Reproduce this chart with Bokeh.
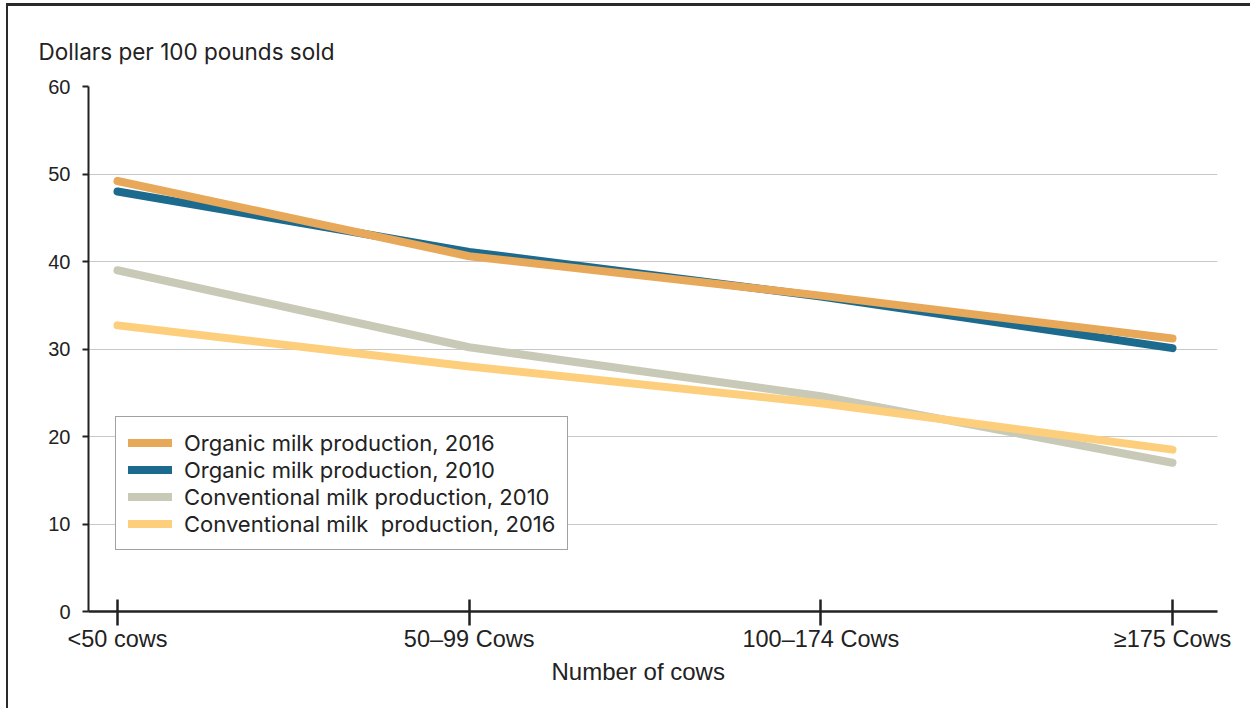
from bokeh.plotting import figure
from bokeh.models import Range1d, FixedTicker, Legend, LegendItem, Title
from bokeh.embed import file_html
from bokeh.resources import INLINE

categories = ["<50 cows", "50\u201399 Cows", "100\u2013174 Cows", "\u2265175 Cows"]
organic_2016 = [49.2, 40.6, 36.1, 31.2]
organic_2010 = [48.0, 41.1, 36.0, 30.1]
conventional_2010 = [39.0, 30.2, 24.6, 17.0]
conventional_2016 = [32.7, 28.0, 23.8, 18.5]
y_ticks = [0, 10, 20, 30, 40, 50, 60]

xs = list(range(len(categories)))

p = figure(width=1244, height=705, output_backend="svg", toolbar_location=None,
           x_range=Range1d(-0.0825, 3.128), y_range=Range1d(0, 60),
           min_border_left=80, min_border_right=35, min_border_top=80, min_border_bottom=100,
           styles={"margin-left": "6px", "margin-top": "3px",
                   "border-top": "3px solid #2a2a2a", "border-left": "2px solid #2a2a2a"})
p.outline_line_color = None
p.background_fill_color = "white"
p.border_fill_color = "white"

t = Title(text="Dollars per 100 pounds sold", align="left", offset=-50, standoff=43,
          text_font="Inter", text_font_size="22.5px", text_font_style="normal",
          text_color="#222222")
p.add_layout(t, "above")

xt = Title(text="Number of cows", align="left", offset=463, standoff=2,
           text_font="Liberation Sans", text_font_size="24px", text_font_style="normal",
           text_color="#222222")
p.add_layout(xt, "below")

# grid
p.xgrid.grid_line_color = None
p.ygrid.grid_line_color = "#c8c8c8"
p.ygrid.grid_line_width = 1.2

# y axis
p.yaxis.ticker = FixedTicker(ticks=y_ticks)
p.yaxis.axis_line_color = "#222222"
p.yaxis.axis_line_width = 2
p.yaxis.major_tick_line_color = "#222222"
p.yaxis.major_tick_line_width = 2
p.yaxis.major_tick_out = 6
p.yaxis.major_tick_in = 0
p.yaxis.minor_tick_line_color = None
p.yaxis.major_label_standoff = 12
p.yaxis.major_label_text_font = "Liberation Sans"
p.yaxis.major_label_text_font_size = "20px"
p.yaxis.major_label_text_color = "#222222"

# x axis
p.xaxis.ticker = FixedTicker(ticks=xs)
p.xaxis.major_label_overrides = {i: c for i, c in enumerate(categories)}
p.xaxis.axis_line_color = "#222222"
p.xaxis.axis_line_width = 2.5
p.xaxis.major_tick_line_color = "#222222"
p.xaxis.major_tick_line_width = 2.5
p.xaxis.major_tick_out = 14
p.xaxis.major_tick_in = 12
p.xaxis.minor_tick_line_color = None
p.xaxis.major_label_standoff = 0
p.xaxis.major_label_text_font = "Liberation Sans"
p.xaxis.major_label_text_font_size = "23.5px"
p.xaxis.major_label_text_color = "#222222"

lw = 8
r_c10 = p.line(xs, conventional_2010, line_color="#C9C9B7", line_width=lw, line_cap="round", line_join="round")
r_c16 = p.line(xs, conventional_2016, line_color="#FDCF7C", line_width=lw, line_cap="round", line_join="round")
r_o10 = p.line(xs, organic_2010, line_color="#1C6B8E", line_width=lw, line_cap="round", line_join="round")
r_o16 = p.line(xs, organic_2016, line_color="#E8A85A", line_width=lw, line_cap="round", line_join="round")

legend = Legend(items=[
    LegendItem(label="Organic milk production, 2016", renderers=[r_o16]),
    LegendItem(label="Organic milk production, 2010", renderers=[r_o10]),
    LegendItem(label="Conventional milk production, 2010", renderers=[r_c10]),
    LegendItem(label="Conventional milk  production, 2016", renderers=[r_c16]),
], location=(27, 61))
legend.margin = 0
legend.padding = 12
legend.spacing = 0
legend.label_height = 27
legend.glyph_height = 27
legend.glyph_width = 44
legend.label_standoff = 12
legend.label_text_font = "Inter"
legend.label_text_font_size = "22px"
legend.label_text_color = "#222222"
legend.border_line_color = "#444444"
legend.border_line_width = 1.5
legend.background_fill_color = "white"
legend.background_fill_alpha = 1
p.add_layout(legend, "center")

open("out.html", "w").write(file_html(p, INLINE))
